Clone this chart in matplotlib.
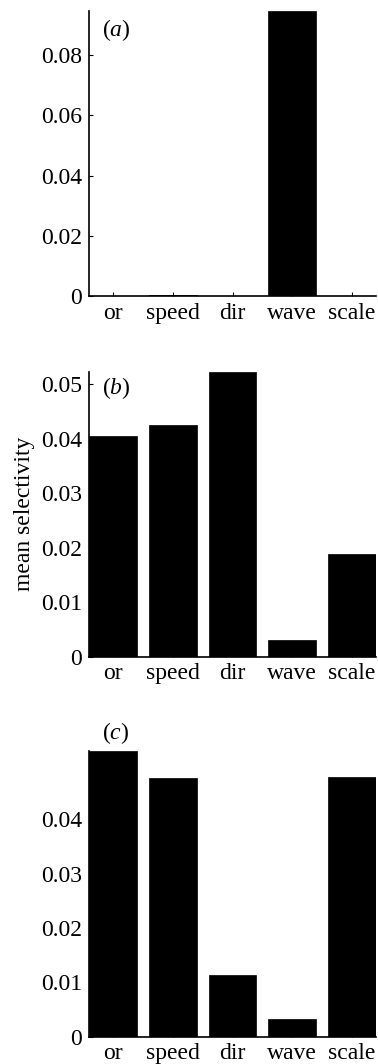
import matplotlib
matplotlib.use("Agg")
import matplotlib.pyplot as plt

plt.rcParams['font.family'] = ['Liberation Serif', 'DejaVu Serif']
plt.rcParams['mathtext.fontset'] = 'custom'
plt.rcParams['mathtext.it'] = 'Liberation Serif:italic'
plt.rcParams['mathtext.rm'] = 'Liberation Serif'

categories = ['or', 'speed', 'dir', 'wave', 'scale']
values_a = [0.0001, 0.0005, 0.0001, 0.0946, 0.0001]
values_b = [0.0405, 0.0425, 0.0523, 0.0030, 0.0188]
values_c = [0.0526, 0.0475, 0.01135, 0.0032, 0.0478]
yticks_a = [0, 0.02, 0.04, 0.06, 0.08]
yticks_b = [0, 0.01, 0.02, 0.03, 0.04, 0.05]
yticks_c = [0, 0.01, 0.02, 0.03, 0.04]
panel_labels = ['a', 'b', 'c']

W, H = 378, 1064
fig = plt.figure(figsize=(W / 100, H / 100), dpi=100)

left = 89 / W
width = (376 - 89) / W
specs = [
    (values_a, yticks_a, 296.3, 285.3, (0.045, 0.934)),
    (values_b, yticks_b, 656.7, 285.0, (0.045, 0.942)),
    (values_c, yticks_c, 1036.7, 286.0, (0.045, 1.061)),
]
fs = 17
x = list(range(1, len(categories) + 1))
for i, (vals, yt, bot_px, h_px, lpos) in enumerate(specs):
    ax = fig.add_axes([left, 1 - bot_px / H, width, h_px / H])
    ax.bar(x, vals, width=0.8, color='black', edgecolor='black', linewidth=0.5)
    ax.set_xlim(0.6, 5.4)
    ax.set_ylim(0, max(vals))
    ax.set_yticks(yt)
    ax.set_yticklabels(['0' if v == 0 else f'{v:g}' for v in yt], fontsize=fs)
    ax.set_xticks(x)
    ax.set_xticklabels(categories, fontsize=fs)
    for s in ['top', 'right']:
        ax.spines[s].set_visible(False)
    for s in ['left', 'bottom']:
        ax.spines[s].set_linewidth(1.2)
    ax.tick_params(axis='both', direction='in', length=3, width=0.8)
    ax.tick_params(axis='y', pad=5)
    ax.tick_params(axis='x', pad=4.5)
    ax.text(lpos[0], lpos[1], '($\\it{' + panel_labels[i] + '}$)', transform=ax.transAxes,
            fontsize=fs, ha='left', va='center', clip_on=False)
    if i == 1:
        ax.set_ylabel('mean selectivity', fontsize=fs, labelpad=4)

fig.savefig('out.png', dpi=100)
